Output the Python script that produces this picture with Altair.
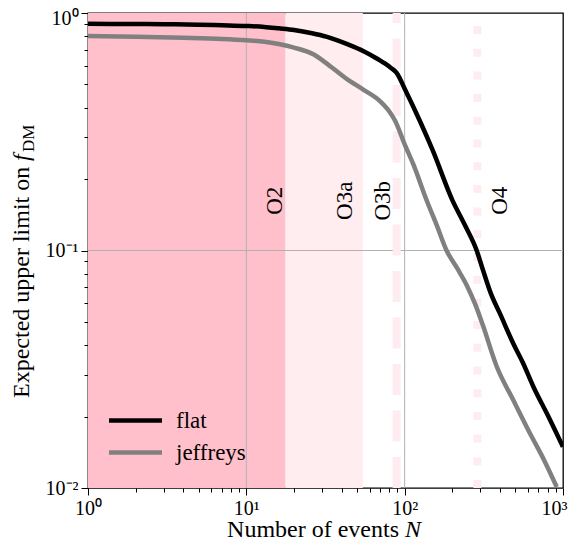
import altair as alt
import pandas as pd

# ---------------- data ----------------
flat_n = [1, 2, 3, 5, 7, 10, 13, 16, 20, 26, 32, 38, 45, 55, 65, 75, 82, 89, 100, 125, 150, 200, 240, 285,
          310, 350, 400, 486, 560, 650, 800, 1000]
flat_y = [0.90, 0.899, 0.897, 0.893, 0.888, 0.882, 0.874, 0.862, 0.848, 0.822, 0.795, 0.765, 0.732, 0.69,
          0.65, 0.613, 0.587, 0.56, 0.48, 0.35, 0.265, 0.163, 0.128, 0.100, 0.084, 0.066, 0.0542, 0.0405,
          0.0335, 0.0267, 0.0203, 0.0149]

jef_n = [1, 2, 4, 7, 10, 13, 16, 20, 26.5, 33, 43, 55, 70, 80, 87, 100, 113, 138, 160, 184, 215, 247, 280,
         310, 382, 486, 618, 760, 913]
jef_y = [0.80, 0.795, 0.787, 0.778, 0.768, 0.757, 0.74, 0.715, 0.67, 0.605, 0.528, 0.475, 0.425, 0.385,
         0.352, 0.28, 0.232, 0.162, 0.127, 0.100, 0.084, 0.0713, 0.059, 0.049, 0.0324, 0.0234, 0.017,
         0.0131, 0.0101]

span_start = [1, 17.7]
span_end = [17.7, 54.4]
span_color = ["#ffc0cb", "#ffedf0"]

run_lines = [89, 288]          # O3b (dashed), O4 (dotted)

run_labels = ["O2", "O3a", "O3b", "O4"]
run_label_x = [15.2, 42, 73, 401]
run_label_y = [0.162, 0.162, 0.162, 0.162]

x_major = [10, 100]
y_major = [0.1]

x_ticks = [m * 10 ** e for e in range(3) for m in range(1, 10)] + [1000]
y_ticks = [0.01, 0.02, 0.03, 0.04, 0.05, 0.06, 0.07, 0.08, 0.09,
           0.1, 0.2, 0.3, 0.4, 0.5, 0.6, 0.7, 0.8, 0.9, 1]

W, H = 475, 475
FONT = "Liberation Serif"
LIGHT = "#ffecf0"

# ---------------- tables ----------------
curves = pd.DataFrame({
    "N": flat_n + jef_n,
    "f": flat_y + jef_y,
    "prior": ["flat"] * len(flat_n) + ["jeffreys"] * len(jef_n),
})
spans = pd.DataFrame({"start": span_start, "end": span_end, "color": span_color,
                      "lo": [0.01] * 2, "hi": [1] * 2})
labels = pd.DataFrame({"label": run_labels, "x": run_label_x, "y": run_label_y})

xs = alt.Scale(type="log", domain=[1, 1000], nice=False)
ys = alt.Scale(type="log", domain=[0.01, 1], nice=False)

major_test_x = "datum.value == 1 || datum.value == 10 || datum.value == 100 || datum.value == 1000"
major_test_y = "datum.value == 0.01 || datum.value == 0.1 || datum.value == 1"

x_axis = alt.Axis(
    values=x_ticks, grid=False, domain=False, title=None,
    labelExpr="datum.value == 1 ? '10⁰' : datum.value == 10 ? '10¹' : datum.value == 100 ? '10²' : datum.value == 1000 ? '10³' : ''",
    tickSize={"condition": {"test": major_test_x, "value": 7}, "value": 4},
    labelOffset={"condition": {"test": "datum.value == 1000", "value": -9}, "value": 0},
    labelOverlap=False, labelFlush=False, labelBound=False, labelPadding=3,
)
y_axis = alt.Axis(
    values=y_ticks, grid=False, domain=False, title=None,
    labelExpr="datum.value == 0.01 ? '10⁻²' : datum.value == 0.1 ? '10⁻¹' : datum.value == 1 ? '10⁰' : ''",
    tickSize={"condition": {"test": major_test_y, "value": 7}, "value": 4},
    labelOffset={"condition": {"test": "datum.value == 1", "value": 5}, "value": 0},
    labelOverlap=False, labelFlush=False, labelBound=False, labelPadding=3,
)

rects = alt.Chart(spans).mark_rect().encode(
    x=alt.X("start:Q", scale=xs, axis=x_axis),
    x2="end:Q",
    y=alt.Y("lo:Q", scale=ys, axis=y_axis),
    y2="hi:Q",
    color=alt.Color("color:N", scale=None),
)

vgrid = alt.Chart(pd.DataFrame({"x": x_major})).mark_rule(color="#b0b0b0", strokeWidth=1).encode(
    x=alt.X("x:Q", scale=xs))
hgrid = alt.Chart(pd.DataFrame({"y": y_major})).mark_rule(color="#b0b0b0", strokeWidth=1).encode(
    y=alt.Y("y:Q", scale=ys))

lines_df = pd.DataFrame({"x": run_lines, "lo": [0.01, 0.01], "hi": [1, 1]})
o3b = alt.Chart(lines_df.iloc[[0]]).mark_rule(color=LIGHT, strokeWidth=8, strokeDash=[31, 15.5]).encode(
    x=alt.X("x:Q", scale=xs), y=alt.Y("lo:Q", scale=ys), y2="hi:Q")
o4 = alt.Chart(lines_df.iloc[[1]]).mark_rule(color=LIGHT, strokeWidth=8, strokeDash=[8, 14.7]).encode(
    x=alt.X("x:Q", scale=xs), y=alt.Y("lo:Q", scale=ys), y2="hi:Q")

lines = alt.Chart(curves).mark_line(strokeWidth=4.5, clip=True, strokeJoin="round",
                                    interpolate="monotone").encode(
    x=alt.X("N:Q", scale=xs),
    y=alt.Y("f:Q", scale=ys),
    color=alt.Color("prior:N",
                    scale=alt.Scale(domain=["flat", "jeffreys"], range=["black", "#808080"]),
                    legend=alt.Legend(title=None, orient="none", legendX=32, legendY=392,
                                      symbolType="M-2,0H2", symbolSize=702, symbolStrokeWidth=4.5,
                                      labelFont=FONT, labelFontSize=23, labelColor="black",
                                      labelOffset=25, rowPadding=4, padding=0)),
)

texts = alt.Chart(labels).mark_text(angle=270, align="center", baseline="middle",
                                     font=FONT, fontSize=23, color="black").encode(
    x=alt.X("x:Q", scale=xs), y=alt.Y("y:Q", scale=ys), text="label:N")

# axis titles built from pieces (roman + italic + subscript)
def piece(txt, x, y, **kw):
    return alt.Chart(pd.DataFrame({"t": [txt]})).mark_text(font=FONT, color="black", **kw).encode(
        x=alt.value(x), y=alt.value(y), text="t:N")

xt1 = piece("Number of events", 311, 524, fontSize=24, align="right", baseline="alphabetic")
xt2 = piece("N", 317, 524, fontSize=24, align="left", baseline="alphabetic", fontStyle="italic")
yt1 = piece("Expected upper limit on", -59, 385, fontSize=24, align="left", baseline="alphabetic", angle=270)
yt2 = piece("f", -59, 148, fontSize=24, align="left", baseline="alphabetic", angle=270, fontStyle="italic")
yt3 = piece("DM", -54, 139, fontSize=17, align="left", baseline="alphabetic", angle=270)

chart = alt.layer(rects, vgrid, hgrid, o3b, o4, lines, texts, xt1, xt2, yt1, yt2, yt3).properties(
    width=W, height=H,
    padding={"left": 80, "top": 5, "right": 5, "bottom": 54},
    autosize="none",
).configure_view(stroke="black", strokeWidth=1.3).configure_axis(
    labelFont=FONT, labelFontSize=20, labelColor="black", tickColor="black", tickWidth=1,
)

chart.save("out.html", embed_options={"renderer": "svg", "actions": False})
